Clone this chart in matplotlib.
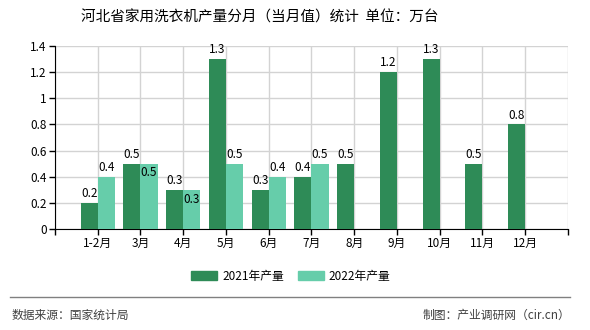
import numpy as np
import matplotlib
matplotlib.use("Agg")
import matplotlib.pyplot as plt
from matplotlib.patches import Patch
from matplotlib.lines import Line2D

plt.rcParams['font.family'] = ['Noto Sans CJK SC', 'DejaVu Sans']

months = ['1-2月', '3月', '4月', '5月', '6月', '7月', '8月', '9月', '10月', '11月', '12月']
y2021 = [0.2, 0.5, 0.3, 1.3, 0.3, 0.4, 0.5, 1.2, 1.3, 0.5, 0.8]
y2022 = [0.4, 0.5, 0.3, 0.5, 0.4, 0.5, None, None, None, None, None]
yticks = [0, 0.2, 0.4, 0.6, 0.8, 1.0, 1.2, 1.4]

c21 = '#2e8b57'
c22 = '#66cdaa'

fig = plt.figure(figsize=(5.9, 3.3), dpi=100)
ax = fig.add_axes([0.0932, 0.3061, 0.8695, 0.5545])

x = np.arange(len(months))
w = 0.4
ax.bar(x - w / 2, y2021, width=w, color=c21, zorder=3)
x22 = [i for i, v in enumerate(y2022) if v is not None]
v22 = [v for v in y2022 if v is not None]
ax.bar(np.array(x22) + w / 2, v22, width=w, color=c22, zorder=3)

for i, v in enumerate(y2021):
    ax.annotate(f'{v:g}', (i - w / 2, v), xytext=(0, 2), textcoords='offset points',
                ha='center', va='bottom', fontsize=8.5, zorder=4)
for i, v in zip(x22, v22):
    # equal values: the reference pushes the 2022 label inside the bar
    if v == y2021[i]:
        ax.annotate(f'{v:g}', (i + w / 2, v), xytext=(0, -2), textcoords='offset points',
                    ha='center', va='top', fontsize=8.5, zorder=4)
    else:
        ax.annotate(f'{v:g}', (i + w / 2, v), xytext=(0, 2), textcoords='offset points',
                    ha='center', va='bottom', fontsize=8.5, zorder=4)

ax.set_xlim(-1, len(months))
ax.set_ylim(0, 1.4)
ax.set_xticks(np.arange(-1, len(months) + 1))
ax.set_xticklabels([''] + months + [''], fontsize=8.5)
ax.set_yticks(yticks)
ax.set_yticklabels([f'{t:g}' for t in yticks], fontsize=8.5)
ax.tick_params(axis='both', length=4, width=1, color='black', pad=2)
ax.grid(True, color='#d3d3d3', linewidth=1, zorder=0)
for s in ['top', 'right']:
    ax.spines[s].set_visible(False)
ax.spines['left'].set_color('black')
ax.spines['bottom'].set_color('black')

fig.text(260 / 590, 0.948, '河北省家用洗衣机产量分月（当月值）统计  单位：万台',
         ha='center', va='center', fontsize=10.5)

handles = [Patch(color=c21), Patch(color=c22)]
fig.legend(handles, ['2021年产量', '2022年产量'], loc='center', bbox_to_anchor=(291 / 590, 0.163),
           ncol=2, frameon=False, fontsize=8.5, handlelength=2.2, handleheight=0.7,
           columnspacing=1.2, handletextpad=0.4)

fig.add_artist(Line2D([10 / 590, 570 / 590], [1 - 297 / 330, 1 - 297 / 330],
                      color='#808080', linewidth=1))
fig.text(12 / 590, 1 - 315 / 330, '数据来源：国家统计局', ha='left', va='center',
         fontsize=8.5, color='#404040')
fig.text(570 / 590, 1 - 315 / 330, '制图：产业调研网（cir.cn）', ha='right', va='center',
         fontsize=8.5, color='#404040')

fig.savefig('out.png', dpi=100)
